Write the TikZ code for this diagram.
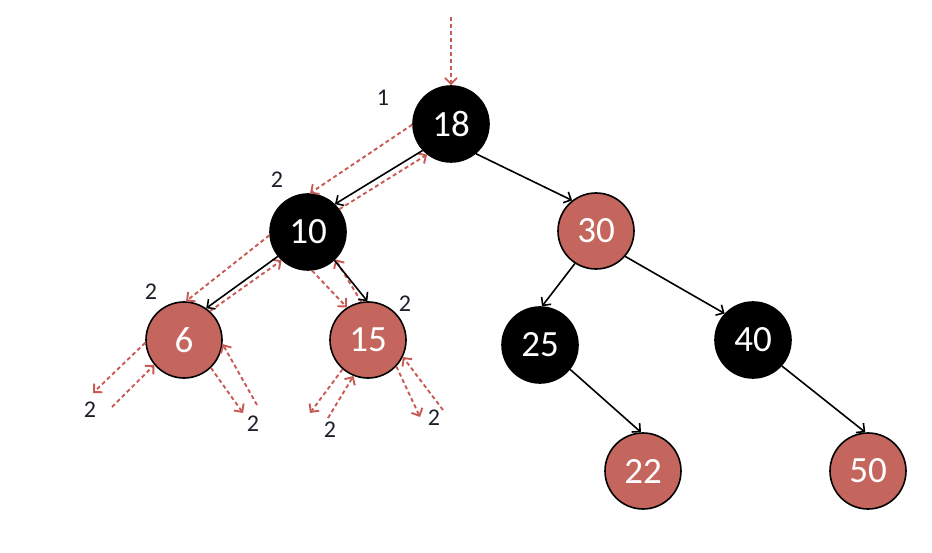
\documentclass[tikz,border=0pt]{standalone}
\usepackage{fontspec}
\setmainfont{Carlito}
\usetikzlibrary{arrows.meta}
\definecolor{rbred}{RGB}{197,102,94}
\definecolor{dashred}{RGB}{200,90,84}
\definecolor{lbl}{RGB}{30,30,40}
\tikzset{
  tnode/.style={circle, minimum size=76pt, inner sep=0pt, draw=black, line width=1.6pt, text=white, font=\fontsize{37}{37}\selectfont},
  blk/.style={tnode, fill=black},
  rd/.style={tnode, fill=rbred},
  edge/.style={draw=black, line width=1.6pt, -{Straight Barb[length=6pt,width=12pt,line width=1.6pt]}},
  trace/.style={draw=dashred, line width=1.9pt, dash pattern=on 4pt off 3pt, -{Straight Barb[length=6pt,width=12pt,line width=1.9pt]}},
  lab/.style={text=lbl, font=\fontsize{24}{24}\selectfont, inner sep=0pt}
}
\begin{document}
\begin{tikzpicture}[x=1pt,y=-1pt]
\useasboundingbox (0,0) rectangle (932,553);
% nodes
\node[blk] (n18) at (451,124) {18};
\node[blk] (n10) at (308,232) {10};
\node[rd]  (n30) at (596,231) {30};
\node[rd]  (n6)  at (184,340) {6};
\node[rd]  (n15) at (368,340) {15};
\node[blk] (n25) at (540,345) {25};
\node[blk] (n40) at (753,340) {40};
\node[rd]  (n22) at (643,471) {22};
\node[rd]  (n50) at (868,471) {50};
% free ends
\coordinate (top) at (451,17);
\coordinate (a1) at (93,393);
\coordinate (a2) at (112,407);
\coordinate (b1) at (243,413);
\coordinate (b2) at (257,405);
\coordinate (c1) at (310,413);
\coordinate (c2) at (328,418);
\coordinate (d1) at (420,417);
\coordinate (d2) at (443,410);
% red traces
\draw[trace] (top) -- (n18.north);
\draw[trace] (n18.181) -- (n10.87);
\draw[trace] (n10.36) -- (n18.232);
\draw[trace] (n10.185) -- (n6.87);
\draw[trace] (n6.48) -- (n10.227);
\draw[trace] (n10.-84) -- (n15.123);
\draw[trace] (n15.100) -- (n10.-45);
\draw[trace] (n6.184) -- (a1);
\draw[trace] (a2) -- (n6.220);
\draw[trace] (n6.-46) -- (b1);
\draw[trace] (b2) -- (n6.-6);
\draw[trace] (n15.229) -- (c1);
\draw[trace] (c2) -- (n15.248);
\draw[trace] (n15.-43) -- (d1);
\draw[trace] (d2) -- (n15.-26);
% black edges
\draw[edge] (n18.223) -- (n10.46);
\draw[edge] (n18.-50) -- (n30.128);
\draw[edge] (n10.219) -- (n6.55);
\draw[edge] (n10.-47) -- (n15.91);
\draw[edge] (n30.237) -- (n25.87);
\draw[edge] (n30.-41) -- (n40.137);
\draw[edge] (n25.-39) -- (n22.93);
\draw[edge] (n40.-42) -- (n50.94);
% labels
\node[lab] (l1) at (383,98) {1};
\node[lab] (l2) at (277,180) {2};
\node[lab] (l3) at (151,292) {2};
\node[lab] (l4) at (405,304) {2};
\node[lab] (l5) at (90,410) {2};
\node[lab] (l6) at (253,424) {2};
\node[lab] (l7) at (330,430) {2};
\node[lab] (l8) at (434,418) {2};
\end{tikzpicture}
\end{document}
